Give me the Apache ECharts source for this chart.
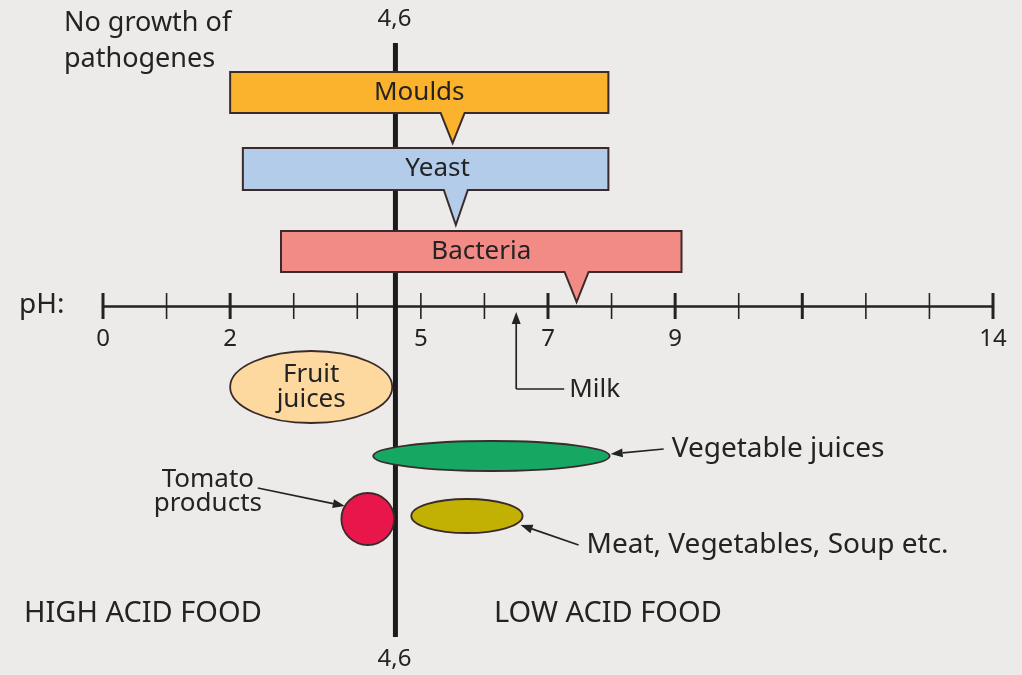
<!DOCTYPE html>
<html>
<head>
<meta charset="utf-8">
<title>pH of food and growth of micro organisms</title>
<script src="https://cdn.jsdelivr.net/npm/echarts@6/dist/echarts.min.js"></script>
<style>
  html, body { margin: 0; padding: 0; background: #ecebe9; }
  #chart { width: 1022px; height: 675px; }
</style>
</head>
<body>
<div id="chart"></div>
<script>
// pH scale
var phTicks = [0, 1, 2, 3, 4, 5, 6, 7, 8, 9, 10, 11, 12, 13, 14];
var phMajorTicks = [0, 2, 7, 9, 11, 14];
var phLabels = [0, 2, 5, 7, 9, 14];
var phLimit = 4.6;

// micro organisms: growth range and optimum
var organisms = ['Moulds', 'Yeast', 'Bacteria'];
var organismLow = [2.0, 2.2, 2.8];
var organismHigh = [7.95, 7.95, 9.1];
var organismOptimum = [5.5, 5.55, 7.45];

// foods: pH range
var foods = ['Fruit\njuices', 'Vegetable juices', 'Tomato\nproducts', 'Meat, Vegetables, Soup etc.'];
var foodLow = [2.0, 4.25, 3.75, 4.85];
var foodHigh = [4.55, 7.97, 4.58, 6.6];
var milkPh = 6.5;

// layout (vertical rows, colours)
var FONT = '"Noto Sans"';
var FS = 28;
var INK = '#232323';
var EDGE = '#3a2b2a';
var axisRow = 306;
var organismRows = [[72, 113, 143], [148, 190, 225], [231, 272, 302]]; // top, bottom, pointer tip
var organismTextShift = [0, 12, 0];
var organismColors = ['#fbb22c', '#b3cce9', '#f28a86'];
var foodRows = [387, 456, 519, 516];
var foodRadiusY = [36, 15, 26, 17];
var foodColors = ['#fdd9a0', '#14a862', '#e8164b', '#c2b102'];

var chart = echarts.init(document.getElementById('chart'));

function txt(text, x, y, align, size, lh) {
  return {
    type: 'text',
    style: {
      text: text, x: x, y: y, fill: INK,
      fontFamily: FONT, fontSize: size || FS,
      align: align || 'left', verticalAlign: 'middle', lineHeight: lh || 30
    }
  };
}

function arrow(tail, tip) {
  var dx = tip[0] - tail[0], dy = tip[1] - tail[1];
  var len = Math.sqrt(dx * dx + dy * dy);
  var ux = dx / len, uy = dy / len;
  var bx = tip[0] - ux * 12, by = tip[1] - uy * 12;
  return [{
    type: 'line',
    shape: { x1: tail[0], y1: tail[1], x2: bx, y2: by },
    style: { stroke: INK, lineWidth: 1.7 }
  }, {
    type: 'polygon',
    shape: { points: [tip, [bx - uy * 4.5, by + ux * 4.5], [bx + uy * 4.5, by - ux * 4.5]] },
    style: { fill: INK }
  }];
}

function renderTicks(params, api) {
  var v = api.value(0);
  var p = api.coord([v, axisRow]);
  var major = phMajorTicks.indexOf(v) >= 0;
  return {
    type: 'line',
    shape: { x1: p[0], y1: p[1] - 13, x2: p[0], y2: p[1] + 13 },
    style: { stroke: INK, lineWidth: major ? 3 : 1.6 }
  };
}

function renderLimit(params, api) {
  var top = api.coord([phLimit, 43]);
  var bottom = api.coord([phLimit, 637]);
  var label = String(phLimit).replace('.', ',');
  return {
    type: 'group',
    children: [
      { type: 'line', shape: { x1: top[0], y1: top[1], x2: bottom[0], y2: bottom[1] },
        style: { stroke: '#1b1b1b', lineWidth: 5 } },
      txt(label, top[0] - 1, 19, 'center', 24),
      txt(label, top[0] - 1, 659, 'center', 24)
    ]
  };
}

function renderOrganism(params, api) {
  var i = params.dataIndex;
  var row = organismRows[i];
  var a = api.coord([organismLow[i], row[0]]);
  var b = api.coord([organismHigh[i], row[1]]);
  var t = api.coord([organismOptimum[i], row[2]]);
  var pts = [
    [a[0], a[1]], [b[0], a[1]], [b[0], b[1]],
    [t[0] + 12, b[1]], [t[0], t[1]], [t[0] - 12, b[1]], [a[0], b[1]]
  ];
  return {
    type: 'group',
    children: [
      { type: 'polygon', shape: { points: pts },
        style: { fill: organismColors[i], stroke: EDGE, lineWidth: 2 } },
      txt(organisms[i], (a[0] + b[0]) / 2 + organismTextShift[i], (a[1] + b[1]) / 2, 'center', 26)
    ]
  };
}

function renderFood(params, api) {
  var i = params.dataIndex;
  var a = api.coord([foodLow[i], foodRows[i]]);
  var b = api.coord([foodHigh[i], foodRows[i]]);
  var cx = (a[0] + b[0]) / 2, cy = a[1];
  var rx = (b[0] - a[0]) / 2, ry = foodRadiusY[i];
  var kids = [{
    type: 'ellipse',
    shape: { cx: cx, cy: cy, rx: rx, ry: ry },
    style: { fill: foodColors[i], stroke: EDGE, lineWidth: 1.8 }
  }];
  var tip, tail;
  if (i === 0) {
    kids.push(txt(foods[i], cx, cy, 'center', 26, 25));
  } else if (i === 1) {
    tip = [b[0] + 1, cy - 2];
    tail = [tip[0] + 53, tip[1] - 5];
    kids = kids.concat(arrow(tail, tip));
    kids.push(txt(foods[i], tail[0] + 8, tail[1], 'left'));
  } else if (i === 2) {
    tip = [cx - rx * 0.87, cy - ry * 0.5];
    tail = [tip[0] - 87, tip[1] - 18];
    kids = kids.concat(arrow(tail, tip));
    kids.push(txt(foods[i], tail[0] - 50, tail[1] + 4, 'center', 26, 24));
  } else {
    tip = [b[0] - 2, cy + 9];
    tail = [tip[0] + 58, tip[1] + 20];
    kids = kids.concat(arrow(tail, tip));
    kids.push(txt(foods[i], tail[0] + 8, tail[1], 'left'));
  }
  return { type: 'group', children: kids };
}

function renderMilk(params, api) {
  var tip = api.coord([milkPh, axisRow + 6]);
  var corner = api.coord([milkPh, 389]);
  var end = [corner[0] + 48, corner[1]];
  return {
    type: 'group',
    children: arrow([tip[0], corner[1]], tip).concat([
      { type: 'line', shape: { x1: corner[0], y1: corner[1], x2: end[0], y2: end[1] },
        style: { stroke: INK, lineWidth: 1.7 } },
      txt('Milk', end[0] + 5, end[1] + 1, 'left', 26)
    ])
  };
}

chart.setOption({
  backgroundColor: '#ecebe9',
  animation: false,
  grid: { left: 103, right: 29, top: 0, bottom: 0 },
  xAxis: {
    type: 'value', min: 0, max: 14, interval: 1,
    position: 'bottom', offset: -(675 - axisRow),
    axisLine: { onZero: false, lineStyle: { color: INK, width: 2.5 } },
    axisTick: { show: false },
    splitLine: { show: false },
    axisLabel: {
      margin: 21, color: INK, fontFamily: FONT, fontSize: 24,
      formatter: function (v) { return phLabels.indexOf(v) >= 0 ? String(v) : ''; }
    }
  },
  yAxis: { type: 'value', min: 0, max: 675, inverse: true, show: false },
  graphic: [
    { type: 'text', left: 64, top: 5,
      style: { text: 'No growth of\npathogenes', fill: INK, fontFamily: FONT, fontSize: 27, lineHeight: 36 } },
    { type: 'text', left: 19, top: 289,
      style: { text: 'pH:', fill: INK, fontFamily: FONT, fontSize: FS, lineHeight: 32 } },
    { type: 'text', left: 24, top: 598,
      style: { text: 'HIGH ACID FOOD', fill: INK, fontFamily: FONT, fontSize: 29, lineHeight: 32 } },
    { type: 'text', left: 494, top: 598,
      style: { text: 'LOW ACID FOOD', fill: INK, fontFamily: FONT, fontSize: 29, lineHeight: 32 } }
  ],
  series: [
    { type: 'custom', renderItem: renderLimit, clip: false, data: [[phLimit]] },
    { type: 'custom', renderItem: renderOrganism, clip: false,
      data: organisms.map(function (n, i) { return [organismLow[i], organismHigh[i]]; }) },
    { type: 'custom', renderItem: renderTicks, clip: false, data: phTicks.map(function (v) { return [v]; }) },
    { type: 'custom', renderItem: renderMilk, clip: false, data: [[milkPh]] },
    { type: 'custom', renderItem: renderFood, clip: false,
      data: foods.map(function (n, i) { return [foodLow[i], foodHigh[i]]; }) }
  ]
});
</script>
</body>
</html>
